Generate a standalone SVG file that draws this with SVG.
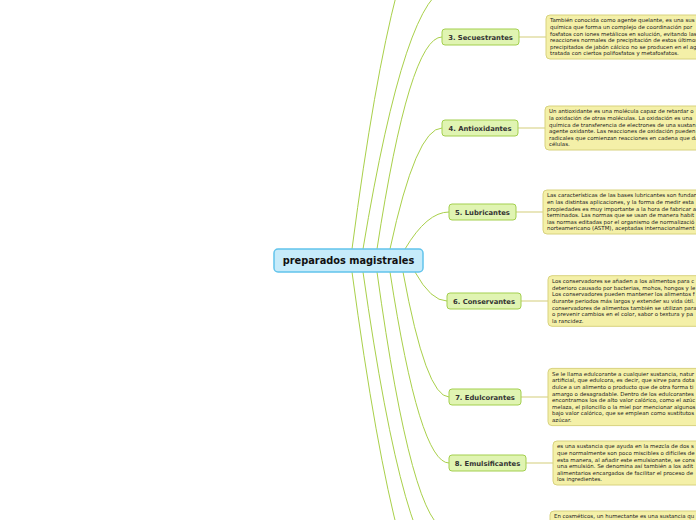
<svg xmlns="http://www.w3.org/2000/svg" width="696" height="520" viewBox="0 0 696 520">
<style>
.c{fill:none;stroke:#a9d04a;stroke-width:1}
.t{fill:none;stroke:#e2dea6;stroke-width:1.5}
.n rect{fill:#e0f4b2;stroke:#a3cf4e;stroke-width:1}
.n text{font-family:"DejaVu Sans",Verdana,sans-serif;font-weight:bold;font-size:6.8px;fill:#333;text-anchor:middle}
.m rect{fill:#f4f0a8;stroke:#d8d27e;stroke-width:1}
.m text{font-family:"DejaVu Sans",Verdana,sans-serif;font-size:5.45px;fill:#222}
</style>
<rect width="696" height="520" fill="#ffffff"/>
<g id="connectors">
<path class="c" d="M352,249 Q397,-93 442,-93"/>
<path class="c" d="M363,249 Q406.5,-12 450,-12"/>
<path class="c" d="M377,249 Q409.5,37 442,37"/>
<path class="c" d="M390,249 Q416,128 442,128"/>
<path class="c" d="M405,249 Q427,212 449,212"/>
<path class="c" d="M415,272 Q431,301 447,301"/>
<path class="c" d="M403,272 Q426,397 449,397"/>
<path class="c" d="M390,272 Q419.5,463 449,463"/>
<path class="c" d="M377,272 Q412.5,530 448,530"/>
<path class="c" d="M363,272 Q405.5,571 448,571"/>
<path class="c" d="M352,272 Q400,629 448,629"/>
<path class="t" d="M519,37 H546"/>
<path class="t" d="M518,128 H545"/>
<path class="t" d="M516,212 H543"/>
<path class="t" d="M521,301 H548"/>
<path class="t" d="M521,397 H548"/>
<path class="t" d="M526,463 H553"/>
</g>
<g id="root">
<rect x="274" y="249" width="149" height="23" rx="4" fill="#c6ebfa" stroke="#62c4ec" stroke-width="1.5"/>
<text x="348.5" y="264.3" font-family="DejaVu Sans,Verdana,sans-serif" font-weight="bold" font-size="9.8px" fill="#111" text-anchor="middle">preparados magistrales</text>
</g>
<g id="n3" class="n"><rect x="442" y="29" width="77" height="16" rx="3"/><text x="480.5" y="39.5">3. Secuestrantes</text></g>
<g id="n4" class="n"><rect x="442" y="120" width="76" height="16" rx="3"/><text x="480" y="130.5">4. Antioxidantes</text></g>
<g id="n5" class="n"><rect x="449" y="204" width="67" height="16" rx="3"/><text x="482.5" y="214.5">5. Lubricantes</text></g>
<g id="n6" class="n"><rect x="447" y="293" width="74" height="16" rx="3"/><text x="484" y="303.5">6. Conservantes</text></g>
<g id="n7" class="n"><rect x="449" y="389" width="72" height="16" rx="3"/><text x="485" y="399.5">7. Edulcorantes</text></g>
<g id="n8" class="n"><rect x="449" y="455" width="77" height="16" rx="3"/><text x="487.5" y="465.5">8. Emulsificantes</text></g>
<g id="note3" class="m"><rect x="546" y="15" width="200" height="44" rx="4"/>
<text x="550" y="22.4">También conocida como agente quelante, es una sus</text>
<text x="550" y="29">química que forma un complejo de coordinación por</text>
<text x="550" y="35.6">fosfatos con iones metálicos en solución, evitando las</text>
<text x="550" y="42.2">reacciones normales de precipitación de estos últimos</text>
<text x="550" y="48.8">precipitados de jabón cálcico no se producen en el ag</text>
<text x="550" y="55.4">tratada con ciertos polifosfatos y metafosfatos.</text>
</g>
<g id="note4" class="m"><rect x="545" y="106" width="200" height="44" rx="4"/>
<text x="549" y="113.4">Un antioxidante es una molécula capaz de retardar o</text>
<text x="549" y="120">la oxidación de otras moléculas. La oxidación es una</text>
<text x="549" y="126.6">química de transferencia de electrones de una sustan</text>
<text x="549" y="133.2">agente oxidante. Las reacciones de oxidación pueden</text>
<text x="549" y="139.8">radicales que comienzan reacciones en cadena que da</text>
<text x="549" y="146.4">células.</text>
</g>
<g id="note5" class="m"><rect x="543" y="190" width="200" height="44" rx="4"/>
<text x="547" y="197.4">Las características de las bases lubricantes son fundam</text>
<text x="547" y="204">en las distintas aplicaciones, y la forma de medir esta</text>
<text x="547" y="210.6">propiedades es muy importante a la hora de fabricar a</text>
<text x="547" y="217.2">terminados. Las normas que se usan de manera habit</text>
<text x="547" y="223.8">las normas editadas por el organismo de normalizació</text>
<text x="547" y="230.4">norteamericano (ASTM), aceptadas internacionalment</text>
</g>
<g id="note6" class="m"><rect x="548" y="275.7" width="200" height="50.6" rx="4"/>
<text x="552" y="283.1">Los conservadores se añaden a los alimentos para c</text>
<text x="552" y="289.7">deterioro causado por bacterias, mohos, hongos y le</text>
<text x="552" y="296.3">Los conservadores pueden mantener los alimentos f</text>
<text x="552" y="302.9">durante periodos más largos y extender su vida útil.</text>
<text x="552" y="309.5">conservadores de alimentos también se utilizan para</text>
<text x="552" y="316.1">o prevenir cambios en el color, sabor o textura y pa</text>
<text x="552" y="322.7">la rancidez.</text>
</g>
<g id="note7" class="m"><rect x="548" y="368.4" width="200" height="57.2" rx="4"/>
<text x="552" y="375.8">Se le llama edulcorante a cualquier sustancia, natur</text>
<text x="552" y="382.4">artificial, que edulcora, es decir, que sirve para dota</text>
<text x="552" y="389">dulce a un alimento o producto que de otra forma ti</text>
<text x="552" y="395.6">amargo o desagradable. Dentro de los edulcorantes</text>
<text x="552" y="402.2">encontramos los de alto valor calórico, como el azúc</text>
<text x="552" y="408.8">melaza, el piloncillo o la miel por mencionar algunos</text>
<text x="552" y="415.4">bajo valor calórico, que se emplean como sustitutos</text>
<text x="552" y="422">azúcar.</text>
</g>
<g id="note8" class="m"><rect x="553" y="441" width="200" height="44" rx="4"/>
<text x="557" y="448.4">es una sustancia que ayuda en la mezcla de dos s</text>
<text x="557" y="455">que normalmente son poco miscibles o difíciles de</text>
<text x="557" y="461.6">esta manera, al añadir este emulsionante, se cons</text>
<text x="557" y="468.2">una emulsión. Se denomina así también a los adit</text>
<text x="557" y="474.8">alimentarios encargados de facilitar el proceso de</text>
<text x="557" y="481.4">los ingredientes.</text>
</g>
<g id="note9" class="m"><rect x="550" y="511" width="200" height="38" rx="4"/>
<text x="554" y="518.4">En cosméticos, un humectante es una sustancia qu</text>
</g>
</svg>
